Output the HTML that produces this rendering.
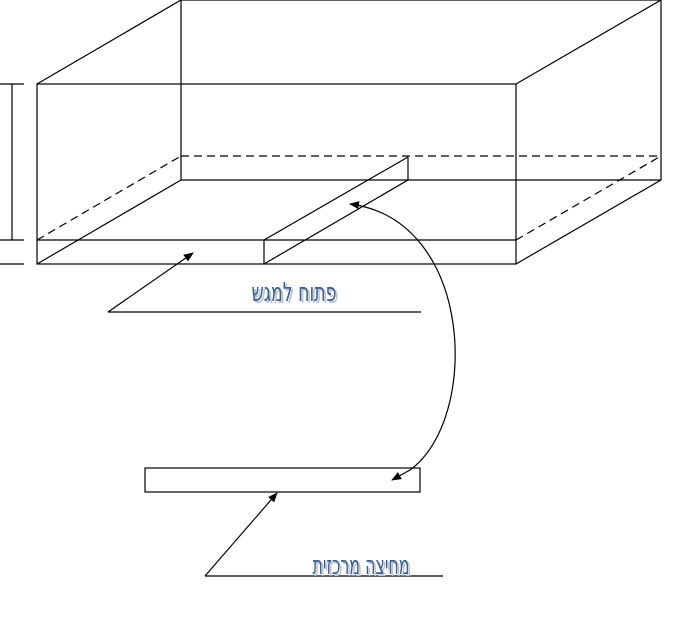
<!DOCTYPE html>
<html><head><meta charset="utf-8"><style>
body{margin:0;background:#fff;width:685px;height:617px;overflow:hidden}
text{font-family:"DejaVu Sans","Liberation Sans",sans-serif;fill:#3f5f8f}
text.s{fill:#b8c4d4}
</style></head><body>
<svg width="685" height="617" viewBox="0 0 685 617" xmlns="http://www.w3.org/2000/svg">
<defs><marker id="a" markerWidth="10" markerHeight="8" refX="9" refY="4" orient="auto" markerUnits="userSpaceOnUse"><path d="M0,0 L10,4 L0,8 z" fill="#000"/></marker></defs>
<g stroke="#000" stroke-width="1.2" fill="none">
<line x1="0" y1="84" x2="24" y2="84"/><line x1="0" y1="240" x2="24" y2="240"/><line x1="0" y1="264" x2="24" y2="264"/>
<line x1="12" y1="84" x2="12" y2="240"/>
<rect x="37" y="84" width="479" height="180"/>
<line x1="37" y1="240" x2="516" y2="240"/>
<line x1="37" y1="84" x2="181" y2="0"/><line x1="516" y1="84" x2="661" y2="0"/>
<line x1="181" y1="0" x2="661" y2="0"/>
<line x1="181" y1="0" x2="181" y2="180"/><line x1="661" y1="0" x2="661" y2="180"/>
<line x1="181" y1="180" x2="661" y2="180"/>
<line x1="37" y1="264" x2="181" y2="180"/><line x1="516" y1="264" x2="661" y2="180"/>
<g stroke-dasharray="8,5"><line x1="37" y1="240" x2="181" y2="156"/><line x1="181" y1="156" x2="661" y2="156"/><line x1="516" y1="240" x2="661" y2="156"/></g>
<line x1="264" y1="240" x2="264" y2="264"/>
<line x1="264" y1="240" x2="408" y2="157"/><line x1="264" y1="264" x2="408" y2="180"/>
<line x1="408" y1="157" x2="408" y2="180"/>
<path d="M410,470 C480,420 475,220 350,204" marker-end="url(#a)"/>
<path d="M410,470 L392,480" marker-end="url(#a)"/>
<rect x="145" y="468" width="275" height="24"/>
<line x1="108" y1="312" x2="421" y2="312"/><line x1="108" y1="312" x2="193" y2="253" marker-end="url(#a)"/>
<line x1="205" y1="576" x2="443" y2="576"/><line x1="205" y1="576" x2="277" y2="493" marker-end="url(#a)"/>
</g>
<text class="s" x="296" y="303" font-size="26" text-anchor="middle" textLength="85" lengthAdjust="spacingAndGlyphs">פתוח למגש</text>
<text x="294" y="301" font-size="26" text-anchor="middle" textLength="85" lengthAdjust="spacingAndGlyphs">פתוח למגש</text>
<text class="s" x="363" y="576" font-size="26" text-anchor="middle" textLength="97" lengthAdjust="spacingAndGlyphs">מחיצה מרכזית</text>
<text x="361" y="574" font-size="26" text-anchor="middle" textLength="97" lengthAdjust="spacingAndGlyphs">מחיצה מרכזית</text>
</svg>
</body></html>
